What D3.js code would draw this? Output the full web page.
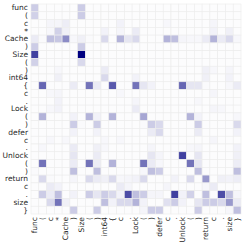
<!DOCTYPE html>
<html><head><meta charset="utf-8">
<script src="https://cdn.jsdelivr.net/npm/d3@7"></script>
<style>html,body{margin:0;padding:0;background:#fff;}</style>
</head><body><svg id="c" width="245" height="245"></svg>
<script>
const tokens = ["func","(","c","*","Cache",")","Size","(",")","int64","{","c",".","Lock","(",")","defer","c",".","Unlock","(",")","return","c",".","size","}"];
const N = tokens.length;
// attention weights [row][col] (sparse entries)
const entries = [
 [0,0,0.2],[0,6,0.2],
 [1,0,0.18],[1,6,0.2],
 [2,2,0.04],[2,3,0.04],[2,4,0.07],[2,11,0.05],[2,23,0.04],[2,17,0.03],
 [3,2,0.03],[3,3,0.18],[3,4,0.06],[3,9,0.05],[3,11,0.04],[3,13,0.08],[3,23,0.05],[3,25,0.06],
 [4,0,0.08],[4,1,0.02],[4,2,0.25],[4,3,0.22],[4,4,0.45],[4,5,0.03],[4,6,0.06],[4,7,0.02],[4,9,0.15],[4,11,0.3],[4,12,0.1],[4,13,0.15],[4,17,0.3],[4,18,0.25],[4,19,0.04],[4,20,0.03],[4,21,0.03],[4,22,0.08],[4,23,0.3],[4,24,0.08],[4,25,0.15],[4,26,0.03],
 [5,0,0.2],[5,6,0.2],
 [6,0,0.75],[6,6,1.0],
 [7,0,0.18],[7,6,0.15],
 [8,3,0.03],[8,9,0.08],[8,22,0.06],[8,23,0.03],[8,25,0.04],
 [9,3,0.06],[9,9,0.15],[9,13,0.05],[9,22,0.06],[9,25,0.05],
 [10,1,0.6],[10,5,0.08],[10,7,0.55],[10,8,0.08],[10,10,0.65],[10,13,0.55],[10,14,0.1],[10,15,0.05],[10,19,0.6],[10,20,0.1],[10,21,0.1],[10,22,0.02],[10,25,0.03],[10,26,0.08],
 [11,2,0.03],[11,3,0.04],[11,11,0.03],[11,23,0.04],
 [12,3,0.05],[12,13,0.04],[12,21,0.03],
 [13,2,0.03],[13,3,0.05],[13,13,0.08],[13,23,0.04],[13,24,0.03],
 [14,1,0.3],[14,5,0.05],[14,7,0.3],[14,8,0.05],[14,10,0.3],[14,14,0.35],[14,20,0.3],[14,21,0.05],[14,26,0.03],
 [15,5,0.2],[15,6,0.02],[15,8,0.2],[15,14,0.02],[15,15,0.2],[15,16,0.15],[15,21,0.2],[15,26,0.15],
 [16,5,0.05],[16,8,0.05],[16,15,0.08],[16,16,0.15],[16,21,0.08],[16,26,0.05],
 [17,2,0.03],[17,4,0.03],[17,9,0.03],[17,11,0.03],[17,23,0.04],
 [18,1,0.03],[18,5,0.08],[18,8,0.06],[18,9,0.03],[18,15,0.04],[18,20,0.03],[18,21,0.04],[18,26,0.05],
 [19,5,0.1],[19,8,0.08],[19,15,0.1],[19,16,0.04],[19,19,0.75],[19,21,0.1],[19,26,0.06],
 [20,1,0.55],[20,5,0.08],[20,7,0.55],[20,8,0.07],[20,10,0.3],[20,14,0.55],[20,15,0.08],[20,16,0.03],[20,20,0.55],[20,21,0.1],[20,26,0.07],
 [21,0,0.02],[21,5,0.25],[21,8,0.25],[21,14,0.03],[21,15,0.25],[21,16,0.2],[21,21,0.25],[21,26,0.25],
 [22,1,0.15],[22,2,0.02],[22,5,0.04],[22,7,0.15],[22,8,0.08],[22,9,0.06],[22,10,0.15],[22,11,0.03],[22,12,0.04],[22,13,0.05],[22,14,0.15],[22,18,0.05],[22,20,0.15],[22,22,0.4],[22,24,0.06],[22,25,0.05],[22,26,0.07],
 [23,2,0.08],[23,3,0.05],[23,11,0.08],[23,12,0.04],[23,17,0.04],[23,22,0.03],[23,23,0.08],
 [24,1,0.2],[24,2,0.08],[24,3,0.25],[24,5,0.05],[24,7,0.2],[24,8,0.1],[24,9,0.2],[24,10,0.15],[24,11,0.05],[24,12,0.7],[24,13,0.25],[24,14,0.2],[24,15,0.04],[24,16,0.04],[24,18,0.75],[24,19,0.05],[24,20,0.18],[24,22,0.25],[24,24,0.7],[24,25,0.25],[24,26,0.04],
 [25,2,0.15],[25,3,0.55],[25,4,0.06],[25,9,0.25],[25,10,0.05],[25,11,0.15],[25,12,0.15],[25,13,0.3],[25,14,0.05],[25,17,0.12],[25,18,0.2],[25,19,0.05],[25,21,0.1],[25,22,0.2],[25,23,0.2],[25,24,0.15],[25,25,0.4],[25,26,0.08],
 [26,5,0.2],[26,8,0.2],[26,14,0.04],[26,15,0.2],[26,16,0.2],[26,21,0.2],[26,25,0.03],[26,26,0.25]
];
const baseValue = 0.012;

const matrix = d3.range(N).map(() => d3.range(N).map(() => baseValue));
entries.forEach(([r,c,v]) => { matrix[r][c] = v; });
const cells = [];
matrix.forEach((row,r) => row.forEach((v,c) => cells.push({r,c,v})));

const svg = d3.select("#c");
const mLeft = 31, mTop = 4, gridSize = 210;
const x = d3.scaleBand().domain(d3.range(N)).range([mLeft, mLeft+gridSize]);
const y = d3.scaleBand().domain(d3.range(N)).range([mTop, mTop+gridSize]);
const color = d3.scaleLinear().domain([0,1]).range(["#ffffff","#000080"]).interpolate(d3.interpolateRgb);

svg.append("g").selectAll("rect").data(cells).join("rect")
  .attr("x", d => x(d.c)).attr("y", d => y(d.r))
  .attr("width", x.bandwidth()).attr("height", y.bandwidth())
  .attr("fill", d => color(d.v))
  .attr("stroke", "#ececec").attr("stroke-width", 0.6);

const fontFam = "DejaVu Sans, sans-serif";
const yAxis = svg.append("g").attr("transform", `translate(${mLeft},0)`)
  .call(d3.axisLeft(y).tickFormat(i => tokens[i]).tickSize(0).tickPadding(3));
yAxis.select(".domain").remove();
yAxis.selectAll("text").attr("font-family", fontFam).attr("font-size", 7.5).attr("fill", "#262626");

const xAxis = svg.append("g").attr("transform", `translate(0,${mTop+gridSize})`)
  .call(d3.axisBottom(x).tickFormat(i => tokens[i]).tickSize(0).tickPadding(3));
xAxis.select(".domain").remove();
xAxis.selectAll("text")
  .attr("font-family", fontFam).attr("font-size", 7.5).attr("fill", "#262626")
  .attr("transform", "rotate(-90)")
  .attr("text-anchor", "end").attr("dy", "0.32em").attr("x", -3).attr("y", 0);
</script>
</body></html>
